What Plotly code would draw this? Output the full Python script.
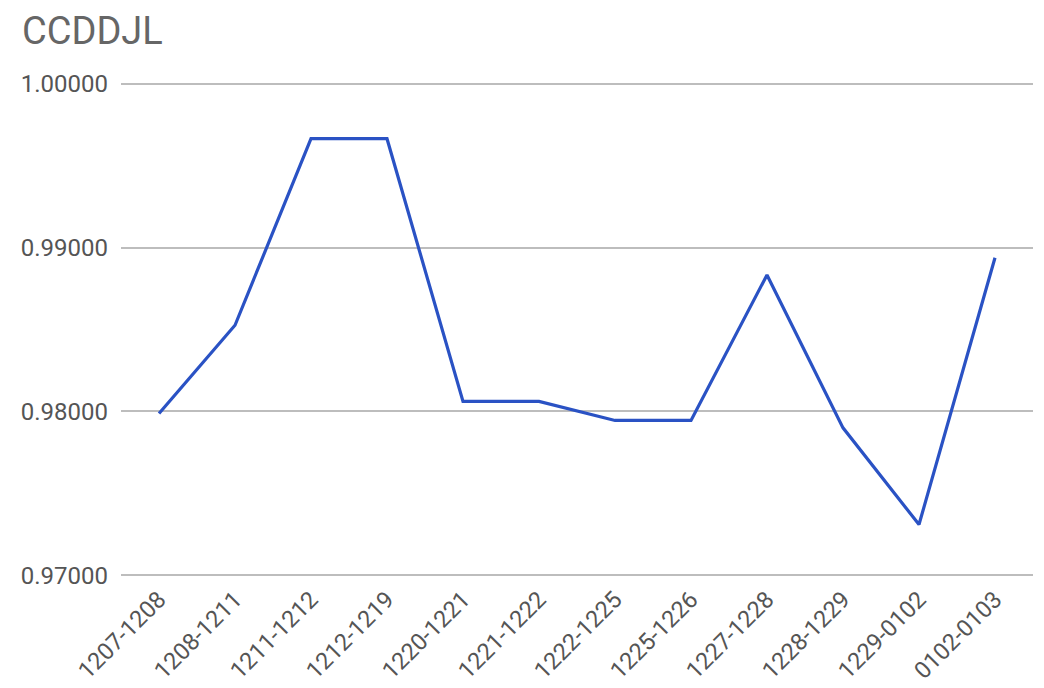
import plotly.graph_objects as go

categories = ["1207-1208", "1208-1211", "1211-1212", "1212-1219", "1220-1221", "1221-1222",
              "1222-1225", "1225-1226", "1227-1228", "1228-1229", "1229-0102", "0102-0103"]
values = [0.97988, 0.98526, 0.99664, 0.99664, 0.98061, 0.98061,
          0.97945, 0.97945, 0.98833, 0.97900, 0.97310, 0.98938]
y_ticks = [0.97, 0.98, 0.99, 1.00]
y_tick_labels = ["0.97000", "0.98000", "0.99000", "1.00000"]

fig = go.Figure()
fig.add_trace(go.Scatter(x=categories, y=values, mode="lines",
                         line=dict(color="#2a52c4", width=3.2)))

W, H = 1036, 680
fig.update_layout(
    width=W, height=H,
    margin=dict(l=113, r=11, t=74, b=111, autoexpand=False),
    paper_bgcolor="white", plot_bgcolor="white",
    font=dict(family="Roboto", color="#555555"),
    showlegend=False,
    title=dict(text="CCDDJL", x=14 / W, xref="container", xanchor="left",
               y=1 - 9 / H, yref="container", yanchor="top",
               font=dict(family="Roboto", size=38, color="#666666"),
               pad=dict(l=0, t=0)),
)
fig.update_xaxes(range=[-0.5, 11.5], tickangle=-45, showgrid=False, zeroline=False,
                 showline=False, ticks="", automargin=False, ticklabelstandoff=3,
                 tickfont=dict(size=23.5, color="#555555"))
fig.update_yaxes(range=[0.9699, 1.0001], tickvals=y_ticks, ticktext=y_tick_labels,
                 showgrid=True, gridcolor="#bdbdbd", gridwidth=1.5, zeroline=False,
                 showline=False, ticks="", automargin=False, ticklabelstandoff=12,
                 tickfont=dict(size=24, color="#555555"))

fig.write_html("out.html")
